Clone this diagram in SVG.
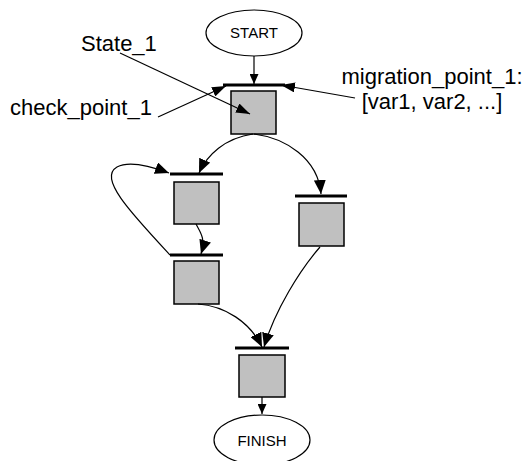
<svg xmlns="http://www.w3.org/2000/svg" width="528" height="461" viewBox="0 0 528 461">
<style>
text{font-family:"Liberation Sans",Arial,sans-serif;fill:#000}
.lbl{font-size:22px}
.term{font-size:15px;text-anchor:middle}
.ell{fill:#fff;stroke:#000;stroke-width:1.2}
.box{fill:#c0c0c0;stroke:#000;stroke-width:1.5}
.bar{stroke:#000;stroke-width:3}
.c{fill:none;stroke:#000;stroke-width:1.2}
</style>
<defs>
<marker id="big" markerUnits="userSpaceOnUse" markerWidth="14" markerHeight="12" refX="14" refY="6" orient="auto"><path d="M0,0 L14,6 L0,12 z" fill="#000"/></marker>
<marker id="sm" markerUnits="userSpaceOnUse" markerWidth="10" markerHeight="9" refX="10" refY="4.5" orient="auto"><path d="M0,0 L10,4.5 L0,9 z" fill="#000"/></marker>
<marker id="mid" markerUnits="userSpaceOnUse" markerWidth="14" markerHeight="10" refX="14" refY="5" orient="auto"><path d="M0,0 L14,5 L0,10 z" fill="#000"/></marker>
</defs>
<g id="start"><ellipse class="ell" cx="254" cy="33" rx="48" ry="23"/><text class="term" x="254" y="38">START</text></g>
<g id="finish"><ellipse class="ell" cx="262" cy="440" rx="48" ry="25"/><text class="term" x="262" y="446">FINISH</text></g>
<g id="state1"><line class="bar" x1="223" y1="85" x2="285" y2="85"/><rect class="box" x="231" y="91" width="45" height="43"/></g>
<g id="state2"><line class="bar" x1="170" y1="174" x2="223" y2="174"/><rect class="box" x="174" y="182" width="45" height="42"/></g>
<g id="state3"><line class="bar" x1="295" y1="196" x2="347" y2="196"/><rect class="box" x="299" y="203" width="45" height="43"/></g>
<g id="state4"><line class="bar" x1="170" y1="255" x2="223" y2="255"/><rect class="box" x="174" y="261" width="45" height="43"/></g>
<g id="state5"><line class="bar" x1="235" y1="348" x2="289" y2="348"/><rect class="box" x="239" y="355" width="46" height="42"/></g>
<g id="labels">
<text class="lbl" x="81" y="51">State_1</text>
<text class="lbl" x="10" y="115">check_point_1</text>
<text class="lbl" x="432" y="84" text-anchor="middle">migration_point_1:</text>
<text class="lbl" x="432" y="109" text-anchor="middle">[var1, var2, ...]</text>
</g>
<g id="connectors">
<line class="c" x1="254" y1="56" x2="254" y2="84" marker-end="url(#sm)"/>
<line class="c" x1="120" y1="53" x2="250" y2="114" marker-end="url(#mid)"/>
<line class="c" x1="158" y1="117" x2="226" y2="86" marker-end="url(#mid)"/>
<line class="c" x1="355" y1="98" x2="281" y2="85" marker-end="url(#mid)"/>
<path class="c" d="M253,134 C225,138 207,155 199,173" marker-end="url(#big)"/>
<path class="c" d="M254,134 C285,138 318,158 321,194" marker-end="url(#big)"/>
<path class="c" d="M196,224 C200,232 206,238 201,254" marker-end="url(#big)"/>
<path class="c" d="M170,255 C130,212 98,178 117,167 C128,161 145,164 169,173" marker-end="url(#big)"/>
<path class="c" d="M198,304 C225,306 250,322 262,347" marker-end="url(#big)"/>
<path class="c" d="M320,247 C300,270 275,310 264,347" marker-end="url(#big)"/>
<line class="c" x1="262" y1="397" x2="262" y2="414" marker-end="url(#sm)"/>
</g>
</svg>
